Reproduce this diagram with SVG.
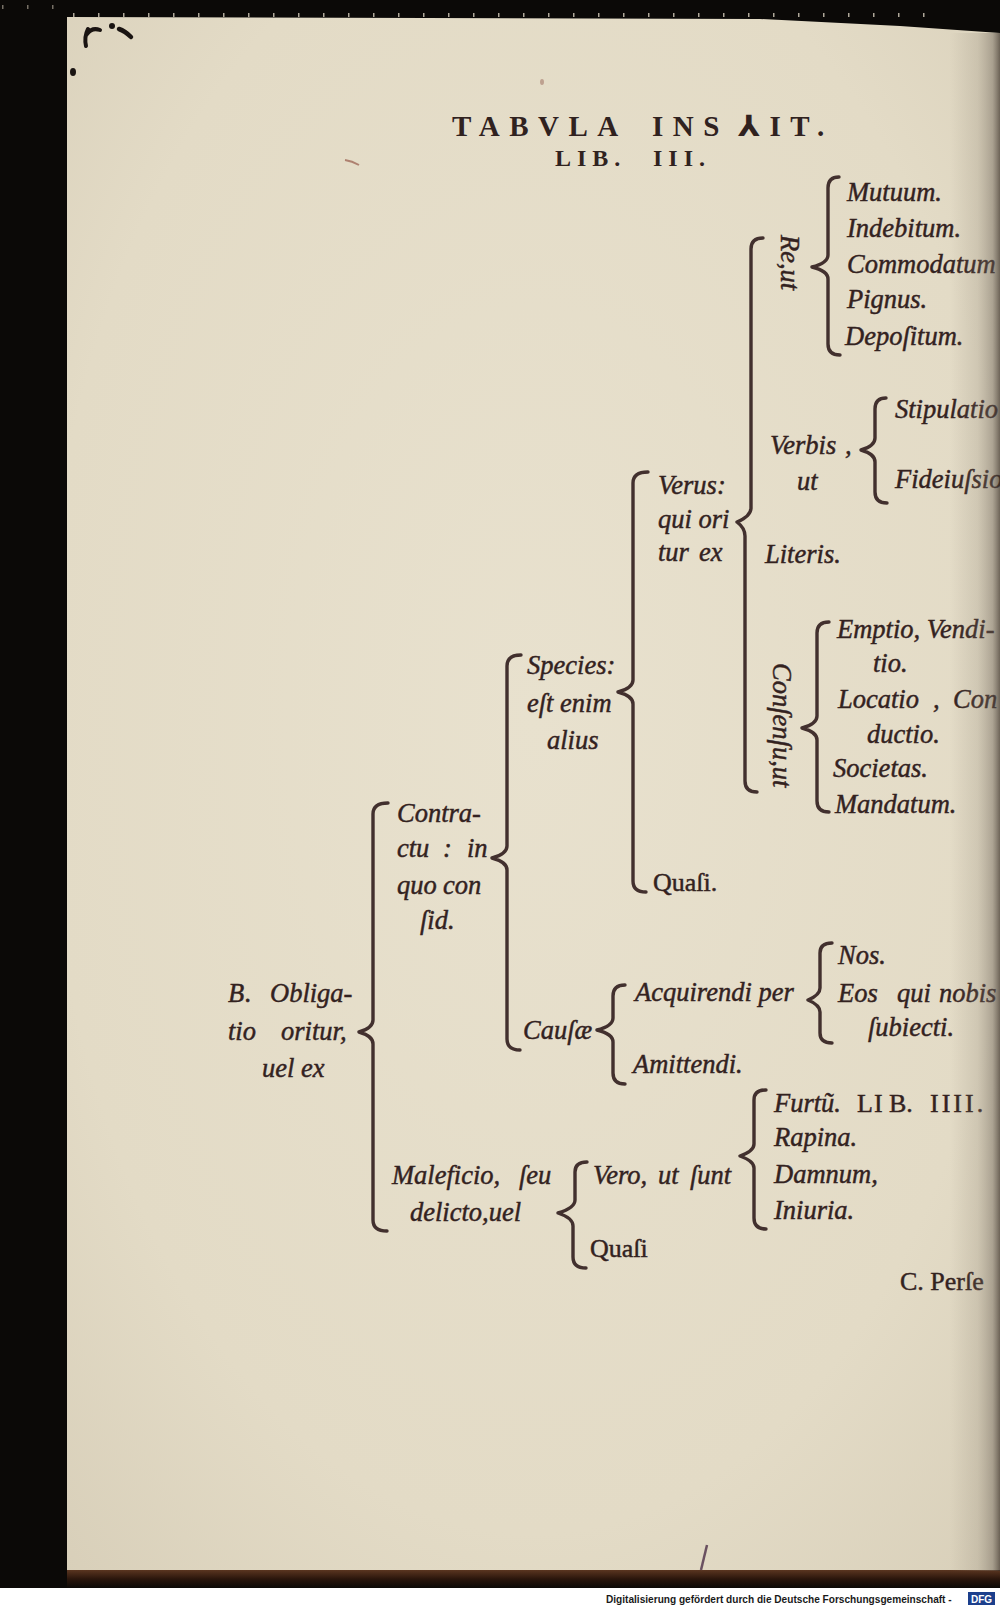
<svg xmlns="http://www.w3.org/2000/svg" width="1000" height="1608" viewBox="0 0 1000 1608">
<defs>
  <radialGradient id="paper" cx="0.5" cy="0.45" r="0.75">
    <stop offset="0" stop-color="#e8e1ce"/>
    <stop offset="0.7" stop-color="#e3dbc6"/>
    <stop offset="1" stop-color="#d8cfb9"/>
  </radialGradient>
  <linearGradient id="gutter" x1="0" x2="1" y1="0" y2="0">
    <stop offset="0" stop-color="#8a8070" stop-opacity="0"/>
    <stop offset="0.55" stop-color="#8a8070" stop-opacity="0.22"/>
    <stop offset="0.85" stop-color="#6a6055" stop-opacity="0.45"/>
    <stop offset="1" stop-color="#3a3028" stop-opacity="0.7"/>
  </linearGradient>
  <linearGradient id="bottomEdge" x1="0" x2="0" y1="0" y2="1">
    <stop offset="0" stop-color="#5a3520"/>
    <stop offset="0.5" stop-color="#2a160c"/>
    <stop offset="1" stop-color="#0b0907"/>
  </linearGradient>
</defs>
<style>
  .it{font-family:"Liberation Serif","DejaVu Serif",serif;font-style:italic;font-size:26.5px;fill:#33221f;stroke:#33221f;stroke-width:0.45px}
  .rm{font-family:"Liberation Serif","DejaVu Serif",serif;font-size:26px;fill:#33221f;stroke:#33221f;stroke-width:0.45px}
  .hd{font-family:"Liberation Serif","DejaVu Serif",serif;font-weight:bold;fill:#30221f}
  .br{fill:none;stroke:#42302e;stroke-width:3.4;stroke-linecap:round;stroke-linejoin:round}
  .ink{fill:none;stroke:#1a1412;stroke-linecap:round}
</style>

<!-- scan background -->
<rect x="0" y="0" width="1000" height="1608" fill="#0b0907"/>
<line x1="73" y1="15" x2="935" y2="15" stroke="#d8cfbe" stroke-width="4" stroke-dasharray="1.5 23.5" opacity="0.8"/>
<line x1="2" y1="7" x2="60" y2="7" stroke="#bdb4a4" stroke-width="4" stroke-dasharray="1.5 23.5" opacity="0.6"/>
<polygon points="67,17 760,19 900,26 1000,33 1000,1572 67,1572" fill="url(#paper)"/>
<rect x="67" y="1570" width="933" height="18" fill="url(#bottomEdge)"/>
<rect x="0" y="1588" width="1000" height="20" fill="#ffffff"/>
<text transform="translate(606,1603) scale(0.92,1)" font-family="Liberation Sans, Arial, sans-serif" font-weight="bold" font-size="11" fill="#1a1a1a">Digitalisierung gefördert durch die Deutsche Forschungsgemeinschaft -</text>
<rect x="968" y="1592" width="27" height="13" fill="#1c3f8c"/>
<text x="981.5" y="1602.5" text-anchor="middle" font-family="Liberation Sans, Arial, sans-serif" font-weight="bold" font-size="10" fill="#ffffff">DFG</text>

<!-- hand marks -->
<g id="marks">
  <path class="ink" stroke-width="4" d="M86,46 Q84,37 88,29 M87,34 Q92,27 100,30"/>
  <circle cx="112" cy="26" r="3" fill="#1a1412"/>
  <path class="ink" stroke-width="4.5" d="M119,29 Q125,31 131,37"/>
  <ellipse cx="73" cy="72" rx="3" ry="4" fill="#1a1412"/>
  <ellipse cx="542" cy="82" rx="2" ry="3" fill="#b49282" opacity="0.8"/>
  <path d="M345,160 Q352,161 359,165" fill="none" stroke="#a06a5a" stroke-width="2" opacity="0.8"/>
  <path d="M707,1545 L701,1570" fill="none" stroke="#6a5060" stroke-width="2.5"/>
</g>

<!-- title -->
<g id="title">
  <text class="hd" font-size="29" letter-spacing="9.5"><tspan x="452" y="136">TABVLA</tspan><tspan x="652" y="136">INS</tspan><tspan x="738" y="136">⅄IT.</tspan></text>
  <text class="hd" font-size="24" letter-spacing="6"><tspan x="555" y="166">LIB.</tspan><tspan x="653" y="166">III.</tspan></text>
</g>

<!-- connectors (brackets) -->
<g id="connectors">
  <path class="br" d="M388,803 Q373,803 373,814 L373,1020 Q373,1028 359,1032 Q373,1036 373,1044 L373,1220 Q373,1231 387,1231"/>
  <path class="br" d="M521,655 Q507,655 507,666 L507,846 Q507,854 492,858 Q507,862 507,870 L507,1039 Q507,1050 520,1050"/>
  <path class="br" d="M648,472 Q633,472 633,483 L633,680 Q633,688 618,692 Q633,696 633,704 L633,881 Q633,892 646,892"/>
  <path class="br" d="M763,238 Q751,238 751,249 L751,508 Q751,516 737,522 Q745,528 745,536 L745,781 Q745,792 757,792"/>
  <path class="br" d="M839,177 Q828,177 828,188 L828,255 Q828,263 812,267 Q828,271 828,279 L828,344 Q828,355 840,355"/>
  <path class="br" d="M886,398 Q875,398 875,409 L875,438 Q875,446 861,450 Q875,454 875,462 L875,492 Q875,503 887,503"/>
  <path class="br" d="M829,622 Q817,622 817,633 L817,716 Q817,724 802,728 Q817,732 817,740 L817,801 Q817,812 829,812"/>
  <path class="br" d="M625,985 Q613,985 613,996 L613,1018 Q613,1026 597,1030 Q613,1034 613,1042 L613,1073 Q613,1084 625,1084"/>
  <path class="br" d="M832,943 Q820,943 820,953 L820,988 Q820,995 808,1000 Q820,1005 820,1012 L820,1033 Q820,1043 832,1043"/>
  <path class="br" d="M587,1162 Q575,1162 575,1172 L575,1200 Q575,1208 558,1213 Q573,1218 573,1226 L573,1257 Q573,1268 586,1268"/>
  <path class="br" d="M766,1090 Q754,1090 754,1100 L754,1144 Q754,1151 740,1156 Q754,1161 754,1168 L754,1218 Q754,1229 766,1229"/>
</g>

<!-- nodes -->
<g id="n-obligatio">
  <text class="it"><tspan x="228" y="1002">B</tspan><tspan x="245" y="1002">.</tspan><tspan x="270" y="1002">Obliga-</tspan></text>
  <text class="it"><tspan x="228" y="1040">tio</tspan><tspan x="281" y="1040">oritur,</tspan></text>
  <text class="it" x="262" y="1077">uel ex</text>
</g>
<g id="n-contractu">
  <text class="it" x="397" y="822">Contra-</text>
  <text class="it"><tspan x="397" y="857">ctu</tspan><tspan x="443" y="857">:</tspan><tspan x="467" y="857">in</tspan></text>
  <text class="it"><tspan x="397" y="894">quo</tspan><tspan x="443" y="894">con</tspan></text>
  <text class="it" x="420" y="929">ſid.</text>
</g>
<g id="n-species">
  <text class="it" x="527" y="674">Species:</text>
  <text class="it" x="527" y="712">eſt enim</text>
  <text class="it" x="547" y="749">alius</text>
</g>
<g id="n-verus">
  <text class="it" x="658" y="494">Verus:</text>
  <text class="it" x="658" y="528">qui ori</text>
  <text class="it"><tspan x="658" y="561">tur</tspan><tspan x="699" y="561">ex</tspan></text>
</g>
<g id="n-re">
  <text class="it" transform="translate(781,235) rotate(90)">Re,ut</text>
</g>
<g id="n-re-items">
  <text class="it" x="847" y="201">Mutuum.</text>
  <text class="it" x="847" y="237">Indebitum.</text>
  <text class="it" x="847" y="273">Commodatum</text>
  <text class="it" x="847" y="308">Pignus.</text>
  <text class="it" x="845" y="345">Depoſitum.</text>
</g>
<g id="n-verbis">
  <text class="it"><tspan x="770" y="454">Verbis</tspan><tspan x="845" y="454">,</tspan></text>
  <text class="it" x="797" y="490">ut</text>
</g>
<g id="n-verbis-items">
  <text class="it" x="895" y="418">Stipulatio</text>
  <text class="it" x="895" y="488">Fideiuſsio</text>
</g>
<g id="n-literis">
  <text class="it" x="765" y="563">Literis.</text>
</g>
<g id="n-consensu">
  <text class="it" font-size="27" transform="translate(773,663) rotate(90)">Conſenſu,ut</text>
</g>
<g id="n-consensu-items">
  <text class="it" x="837" y="638">Emptio, Vendi-</text>
  <text class="it" x="873" y="672">tio.</text>
  <text class="it"><tspan x="838" y="708">Locatio</tspan><tspan x="933" y="708">,</tspan><tspan x="953" y="708">Con</tspan></text>
  <text class="it" x="867" y="743">ductio.</text>
  <text class="it" x="833" y="777">Societas.</text>
  <text class="it" x="835" y="813">Mandatum.</text>
</g>
<g id="n-quasi1">
  <text class="rm" x="653" y="891">Quaſi.</text>
</g>
<g id="n-causae">
  <text class="it" x="523" y="1039">Cauſæ</text>
</g>
<g id="n-acquirendi">
  <text class="it" x="635" y="1001">Acquirendi per</text>
</g>
<g id="n-acquirendi-items">
  <text class="it" x="838" y="964">Nos.</text>
  <text class="it"><tspan x="838" y="1002">Eos</tspan><tspan x="897" y="1002">qui</tspan><tspan x="939" y="1002">nobis</tspan></text>
  <text class="it" x="868" y="1036">ſubiecti.</text>
</g>
<g id="n-amittendi">
  <text class="it" x="633" y="1073">Amittendi.</text>
</g>
<g id="n-maleficio">
  <text class="it"><tspan x="392" y="1184">Maleficio,</tspan><tspan x="519" y="1184">ſeu</tspan></text>
  <text class="it" x="410" y="1221">delicto,uel</text>
</g>
<g id="n-vero">
  <text class="it"><tspan x="593" y="1184">Vero,</tspan><tspan x="658" y="1184">ut</tspan><tspan x="690" y="1184">ſunt</tspan></text>
</g>
<g id="n-quasi2">
  <text class="rm" x="590" y="1257">Quaſi</text>
</g>
<g id="n-vero-items">
  <text class="it" x="774" y="1112">Furtũ.</text>
  <text class="rm" font-size="22"><tspan x="857" y="1112">L</tspan><tspan x="874" y="1112">I</tspan><tspan x="889" y="1112">B.</tspan><tspan x="930" y="1112" letter-spacing="3">IIII.</tspan></text>
  <text class="it" x="774" y="1146">Rapina.</text>
  <text class="it" x="774" y="1183">Damnum,</text>
  <text class="it" x="774" y="1219">Iniuria.</text>
</g>
<g id="catchword">
  <text class="rm" x="900" y="1290">C. Perſe</text>
</g>

<rect x="950" y="33" width="50" height="1538" fill="url(#gutter)"/>
</svg>
